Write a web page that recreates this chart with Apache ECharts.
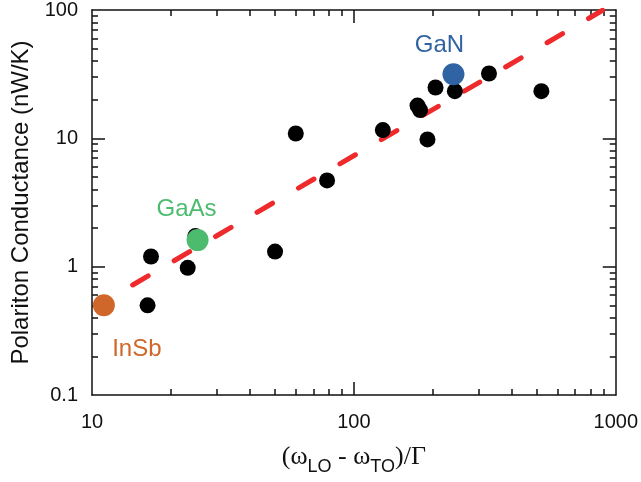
<!DOCTYPE html>
<html>
<head>
<meta charset="utf-8">
<script src="https://cdn.jsdelivr.net/npm/echarts@6/dist/echarts.min.js"></script>
<style>
html, body { margin: 0; padding: 0; background: #fff; }
#chart { width: 641px; height: 482px; }
</style>
</head>
<body>
<div id="chart"></div>
<script>
// black points (x, y)
var blackX = [16.3, 16.8, 23.2, 24.8, 50, 60, 79, 129, 175, 179, 191, 205, 243, 328, 520];
var blackY = [0.5, 1.2, 0.98, 1.73, 1.31, 10.9, 4.7, 11.6, 18.0, 16.6, 9.8, 24.9, 23.3, 32.0, 23.3];
// named materials
var matNames = ['InSb', 'GaAs', 'GaN'];
var matX = [11.1, 25.3, 240];
var matY = [0.5, 1.61, 31.6];
var matColors = ['#d0672a', '#4dbb6e', '#3063a3'];
// fit line endpoints
var fitX = [14.3, 891];
var fitY = [0.72, 99.5];
// ticks
var xLabels = [10, 100, 1000];
var xMajor = [100];
var xMinor = [20, 30, 40, 50, 60, 70, 80, 90, 200, 300, 400, 500, 600, 700, 800, 900];
var yLabels = [0.1, 1, 10, 100];
var yMajor = [1, 10];
var yMinor = [0.2, 0.3, 0.4, 0.5, 0.6, 0.7, 0.8, 0.9, 2, 3, 4, 5, 6, 7, 8, 9, 20, 30, 40, 50, 60, 70, 80, 90];

var chart = echarts.init(document.getElementById('chart'));

var lineStyle = { color: '#111', width: 1.5 };

//坐标轴
function makeAxis(min, max, pos, ticks, len, showLine) {
    return {
        type: 'log', logBase: 10, min: min, max: max, position: pos,
        axisLine: { show: showLine, lineStyle: lineStyle },
        axisTick: { show: true, inside: true, length: len, customValues: ticks, lineStyle: lineStyle },
        axisLabel: { show: false },
        splitLine: { show: false }
    };
}

var xAxes = [
    makeAxis(10, 1000, 'bottom', xMinor, 6, true),
    makeAxis(10, 1000, 'bottom', xMajor, 13, false),
    makeAxis(10, 1000, 'top', xMinor, 6, true),
    makeAxis(10, 1000, 'top', xMajor, 13, false)
];
xAxes[0].axisLabel = {
    show: true, customValues: xLabels, margin: 17,
    fontFamily: 'Liberation Sans', fontSize: 20, color: '#111',
    formatter: function (v) { return String(v); }
};
xAxes[0].name = '{m|(ω}{s|LO}{m| - ω}{s|TO}{m|)/Γ}';
xAxes[0].nameLocation = 'middle';
xAxes[0].nameGap = 49;
xAxes[0].nameTextStyle = {
    rich: {
        m: { fontFamily: 'Liberation Serif', fontSize: 26, color: '#111', lineHeight: 30, verticalAlign: 'top' },
        s: { fontFamily: 'Liberation Sans', fontSize: 18, color: '#111', lineHeight: 18, padding: [14, 0, 0, 0], verticalAlign: 'top' }
    }
};

var yAxes = [
    makeAxis(0.1, 100, 'left', yMinor, 6, true),
    makeAxis(0.1, 100, 'left', yMajor, 13, false),
    makeAxis(0.1, 100, 'right', yMinor, 6, true),
    makeAxis(0.1, 100, 'right', yMajor, 13, false)
];
yAxes[0].axisLabel = {
    show: true, customValues: yLabels, margin: 14,
    fontFamily: 'Liberation Sans', fontSize: 20, color: '#111',
    formatter: function (v) { return String(v); }
};
yAxes[0].name = 'Polariton Conductance (nW/K)';
yAxes[0].nameLocation = 'middle';
yAxes[0].nameGap = 58;
yAxes[0].nameTextStyle = { fontFamily: 'Liberation Sans', fontSize: 24, color: '#111' };

var blackData = blackX.map(function (x, i) { return [x, blackY[i]]; });
var matSeries = matNames.map(function (n, i) {
    var offs = [[33, 44], [-11, -31], [-14, -29]];
    return {
        type: 'scatter', name: n, symbolSize: 22, z: 4,
        itemStyle: { color: matColors[i], opacity: 1 },
        label: {
            show: true, position: 'inside', offset: offs[i],
            formatter: n, color: matColors[i],
            fontFamily: 'Liberation Sans', fontSize: 24
        },
        data: [[matX[i], matY[i]]]
    };
});

var option = {
    animation: false,
    grid: { left: 92, right: 23, top: 9, bottom: 87 },
    xAxis: xAxes,
    yAxis: yAxes,
    series: [
        {
            type: 'line', symbol: 'none', z: 2,
            lineStyle: { color: '#ee2a2d', width: 5, type: [18, 30], cap: 'round' },
            data: fitX.map(function (x, i) { return [x, fitY[i]]; })
        },
        {
            type: 'scatter', symbolSize: 16, z: 3,
            itemStyle: { color: '#000', opacity: 1 },
            data: blackData
        }
    ].concat(matSeries)
};

chart.setOption(option);
</script>
</body>
</html>
